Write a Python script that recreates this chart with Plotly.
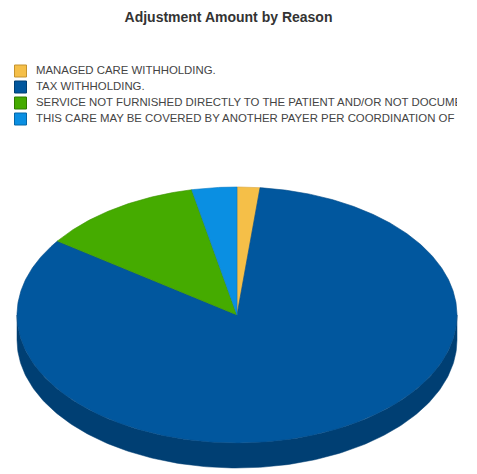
import numpy as np
import plotly.graph_objects as go

# ---- data ----
title_text = "Adjustment Amount by Reason"
reasons = [
    "MANAGED CARE WITHHOLDING.",
    "TAX WITHHOLDING.",
    "SERVICE NOT FURNISHED DIRECTLY TO THE PATIENT AND/OR NOT DOCUMENTED.",
    "THIS CARE MAY BE COVERED BY ANOTHER PAYER PER COORDINATION OF BENEFITS.",
]
amounts = [1.67, 83.1, 11.9, 3.3]
top_colors = ["#F5BF48", "#01579E", "#45AB00", "#0A8FE2"]
side_colors = ["#C4932E", "#003F73", "#2F7A00", "#0566A6"]
edge_colors = ["#D9A43A", "#014A86", "#3A9200", "#0A7BC4"]

# ---- layout constants (pixels) ----
W, H = 477, 474
CX, CY, RX, RY, DEPTH = 237, 315, 220, 128, 25

vals = np.array(amounts, dtype=float)
fr = vals / vals.sum()
ends = np.cumsum(fr) * 360.0
starts = ends - fr * 360.0


def ell(theta_deg, dy=0.0):
    t = np.radians(theta_deg)
    return CX + RX * np.sin(t), CY - RY * np.cos(t) + dy


fig = go.Figure()

# sides (front half only: 90..270 degrees)
for i in range(len(amounts)):
    a0, a1 = max(starts[i], 90.0), min(ends[i], 270.0)
    if a1 <= a0:
        continue
    th = np.linspace(a0, a1, 200)
    xt, yt = ell(th)
    xb, yb = ell(th[::-1], DEPTH)
    fig.add_trace(go.Scatter(
        x=np.concatenate([xt, xb, xt[:1]]), y=np.concatenate([yt, yb, yt[:1]]),
        mode="lines", fill="toself", fillcolor=side_colors[i],
        line=dict(color=side_colors[i], width=0.5),
        hoverinfo="skip", showlegend=False))

# top faces
for i in range(len(amounts)):
    n = max(int(fr[i] * 720), 8)
    th = np.linspace(starts[i], ends[i], n)
    xa, ya = ell(th)
    fig.add_trace(go.Scatter(
        x=np.concatenate([[CX], xa, [CX]]), y=np.concatenate([[CY], ya, [CY]]),
        mode="lines", fill="toself", fillcolor=top_colors[i],
        line=dict(color=edge_colors[i], width=0.6),
        name=reasons[i], text=[reasons[i]] * (n + 2),
        hovertemplate="%{text}<br>" + f"{fr[i]*100:.1f}%<extra></extra>",
        showlegend=False))

# legend (squares + clipped text)
LEG_X, LEG_Y0, LEG_DY, TXT_X = 20.5, 71, 16, 36
ly = [LEG_Y0 + LEG_DY * i for i in range(len(reasons))]
fig.add_trace(go.Scatter(
    x=[LEG_X] * len(reasons), y=ly, mode="markers",
    marker=dict(symbol="square", size=12, color=top_colors,
                line=dict(color=side_colors, width=1)),
    hoverinfo="skip", showlegend=False, xaxis="x2", yaxis="y2"))
fig.add_trace(go.Scatter(
    x=[TXT_X] * len(reasons), y=ly, mode="text", text=reasons,
    textposition="middle right", cliponaxis=True,
    textfont=dict(family="Liberation Sans, Arial, sans-serif", size=11.4, color="#444444"),
    hoverinfo="skip", showlegend=False, xaxis="x2", yaxis="y2"))

axis_common = dict(visible=False, showgrid=False, zeroline=False, fixedrange=True)
fig.update_layout(
    width=W, height=H,
    margin=dict(l=0, r=0, t=0, b=0),
    paper_bgcolor="white", plot_bgcolor="rgba(0,0,0,0)",
    xaxis=dict(range=[0, W], domain=[0, 1], **axis_common),
    yaxis=dict(range=[H, 0], domain=[0, 1], **axis_common),
    xaxis2=dict(range=[0, 457], domain=[0, 457 / W], anchor="y2", **axis_common),
    yaxis2=dict(range=[H, 0], domain=[0, 1], anchor="x2", overlaying="y", **axis_common),
    showlegend=False,
    title=dict(text="<b>" + title_text + "</b>", x=228.5 / W, xanchor="center",
               y=1 - 17 / H, yanchor="middle",
               font=dict(family="Liberation Sans, Arial, sans-serif", size=14, color="#333333")),
)

fig.write_html("out.html", config={"displayModeBar": False},
               post_script="document.body.style.margin='0';document.body.style.overflow='hidden';")
